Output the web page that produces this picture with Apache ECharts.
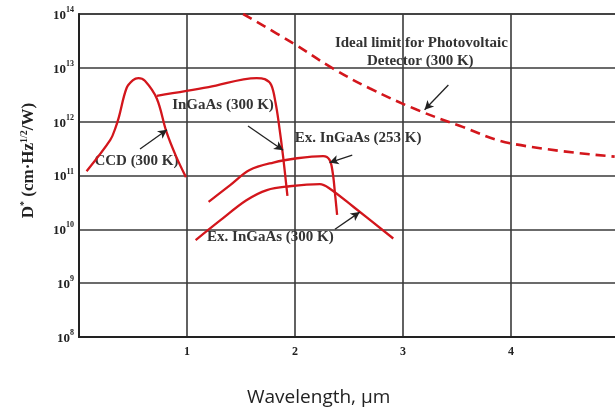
<!DOCTYPE html>
<html>
<head>
<meta charset="utf-8">
<script src="https://cdn.jsdelivr.net/npm/echarts@6/dist/echarts.min.js"></script>
<style>
  html, body { margin: 0; padding: 0; background: #fff; }
  #chartBox { width: 615px; height: 410px; }
</style>
</head>
<body>
<div id="chartBox"></div>
<script>
// CCD (300 K)
var ccdX = [0.07, 0.29, 0.34, 0.37, 0.44, 0.50, 0.55, 0.61, 0.72, 0.81, 0.90, 0.99];
var ccdY = [1.20e11, 4.57e11, 7.94e11, 1.23e12, 4.17e12, 5.89e12, 6.46e12, 5.75e12, 2.69e12, 6.46e11, 2.24e11, 9.33e10];
// InGaAs (300 K)
var ingaasX = [0.72, 1.20, 1.645, 1.72, 1.78, 1.82, 1.85, 1.89, 1.93];
var ingaasY = [3.02e12, 4.37e12, 6.46e12, 6.17e12, 4.79e12, 2.24e12, 9.33e11, 2.24e11, 4.17e10];
// Ex. InGaAs (253 K)
var ex253X = [1.20, 1.40, 1.58, 1.80, 2.02, 2.26, 2.32, 2.35, 2.37, 2.39];
var ex253Y = [3.24e10, 6.61e10, 1.26e11, 1.74e11, 2.09e11, 2.29e11, 1.95e11, 1.10e11, 4.68e10, 1.86e10];
// Ex. InGaAs (300 K)
var ex300X = [1.08, 1.31, 1.55, 1.74, 1.95, 2.23, 2.32, 2.54, 2.91];
var ex300Y = [6.31e9, 1.48e10, 3.47e10, 5.37e10, 6.31e10, 6.92e10, 5.75e10, 2.63e10, 6.76e9];
// Ideal limit for Photovoltaic Detector (300 K)
var idealX = [1.52, 1.98, 2.35, 2.69, 3.13, 3.53, 3.99, 4.96];
var idealY = [1.0e14, 2.88e13, 9.77e12, 4.17e12, 1.66e12, 8.32e11, 3.98e11, 2.24e11];

// annotation texts (data coords of text centre)
var labelTexts = ['CCD (300 K)', 'InGaAs (300 K)', 'Ex. InGaAs (253 K)', 'Ex. InGaAs (300 K)', 'Ideal limit for Photovoltaic', 'Detector (300 K)'];
var labelX = [0.532, 1.333, 2.585, 1.772, 3.17, 3.16];
var labelY = [1.88e11, 2.04e12, 4.97e11, 7.1e9, 2.88e13, 1.34e13];
// arrows: from -> to
var arrowFrom = [[0.565, 3.1e11], [1.565, 8.3e11], [2.53, 2.4e11], [2.37, 1.0e10], [3.42, 4.8e12]];
var arrowTo = [[0.815, 7.1e11], [1.89, 2.95e11], [2.32, 1.74e11], [2.60, 2.09e10], [3.20, 1.66e12]];

var red = '#d3161c';
var serif = 'Liberation Serif';

function pairs(xs, ys) {
  return xs.map(function (x, i) { return [x, ys[i]]; });
}

var chart = echarts.init(document.getElementById('chartBox'));

var option = {
  animation: false,
  backgroundColor: '#fff',
  grid: {
    left: 79, top: 14, width: 540, height: 323,
    outerBoundsMode: 'none', containLabel: false,
    show: true, borderColor: '#333', borderWidth: 1.5
  },
  xAxis: {
    type: 'value',
    min: 0, max: 5, interval: 1,
    axisLine: { lineStyle: { color: '#222', width: 2 } },
    axisTick: { show: false },
    axisLabel: {
      margin: 9,
      color: '#222', fontFamily: serif, fontWeight: 'bold', fontSize: 12,
      formatter: function (v) { return v === 0 ? '' : String(v); }
    },
    splitLine: { show: true, lineStyle: { color: '#3a3a3a', width: 1.6 } }
  },
  yAxis: {
    type: 'log', logBase: 10,
    min: 1e8, max: 1e14,
    axisLine: { lineStyle: { color: '#222', width: 2 } },
    axisTick: { show: false },
    axisLabel: {
      margin: 5,
      formatter: function (v) {
        return '{b|10}{s|' + Math.round(Math.log10(v)) + '}';
      },
      rich: {
        b: { fontFamily: serif, fontWeight: 'bold', fontSize: 13, color: '#222', lineHeight: 16, verticalAlign: 'bottom' },
        s: { fontFamily: serif, fontWeight: 'bold', fontSize: 8, color: '#222', lineHeight: 16, verticalAlign: 'top', padding: [0, 0, 6, 0] }
      }
    },
    splitLine: { show: true, lineStyle: { color: '#3a3a3a', width: 1.6 } },
    name: '{a|D}{s|*}{a| (cm·Hz}{s|1/2}{a|/W)}',
    nameLocation: 'middle',
    nameGap: 40,
    nameRotate: 90,
    nameTextStyle: {
      padding: [0, 0, 0, 30],
      rich: {
        a: { fontFamily: serif, fontWeight: 'bold', fontSize: 17, color: '#222', lineHeight: 20 },
        s: { fontFamily: serif, fontWeight: 'bold', fontSize: 10, color: '#222', lineHeight: 20, padding: [0, 0, 9, 0] }
      }
    }
  },
  series: [
    { name: 'CCD (300 K)', type: 'line', data: pairs(ccdX, ccdY), smooth: 0.35, showSymbol: false, lineStyle: { color: red, width: 2.3 } },
    { name: 'InGaAs (300 K)', type: 'line', data: pairs(ingaasX, ingaasY), smooth: 0.35, showSymbol: false, lineStyle: { color: red, width: 2.3 } },
    { name: 'Ex. InGaAs (253 K)', type: 'line', data: pairs(ex253X, ex253Y), smooth: 0.35, showSymbol: false, lineStyle: { color: red, width: 2.3 } },
    { name: 'Ex. InGaAs (300 K)', type: 'line', data: pairs(ex300X, ex300Y), smooth: 0.35, showSymbol: false, lineStyle: { color: red, width: 2.3 } },
    {
      name: 'Ideal limit', type: 'line', data: pairs(idealX, idealY), smooth: 0.4, showSymbol: false,
      lineStyle: { color: red, width: 2.6, type: [10, 6] },
      markLine: {
        silent: true,
        symbol: ['none', 'arrow'],
        symbolSize: [7, 9],
        label: { show: false },
        lineStyle: { color: '#222', width: 1.3, type: 'solid' },
        data: arrowFrom.map(function (f, i) {
          return [{ coord: f }, { coord: arrowTo[i] }];
        })
      }
    }
  ]
};
chart.setOption(option);

// text annotations placed through the axes
var texts = labelTexts.map(function (t, i) {
  var p = chart.convertToPixel({ gridIndex: 0 }, [labelX[i], labelY[i]]);
  return {
    type: 'text',
    x: p[0], y: p[1],
    style: {
      text: t, align: 'center', verticalAlign: 'middle',
      font: 'bold 15px "Liberation Serif"', fill: '#333'
    }
  };
});
texts.push({
  type: 'text', x: 247, y: 398,
  style: { text: 'Wavelength, µm', verticalAlign: 'middle', font: '19px "Open Sans"', fill: '#222' }
});
chart.setOption({ graphic: texts });
</script>
</body>
</html>
